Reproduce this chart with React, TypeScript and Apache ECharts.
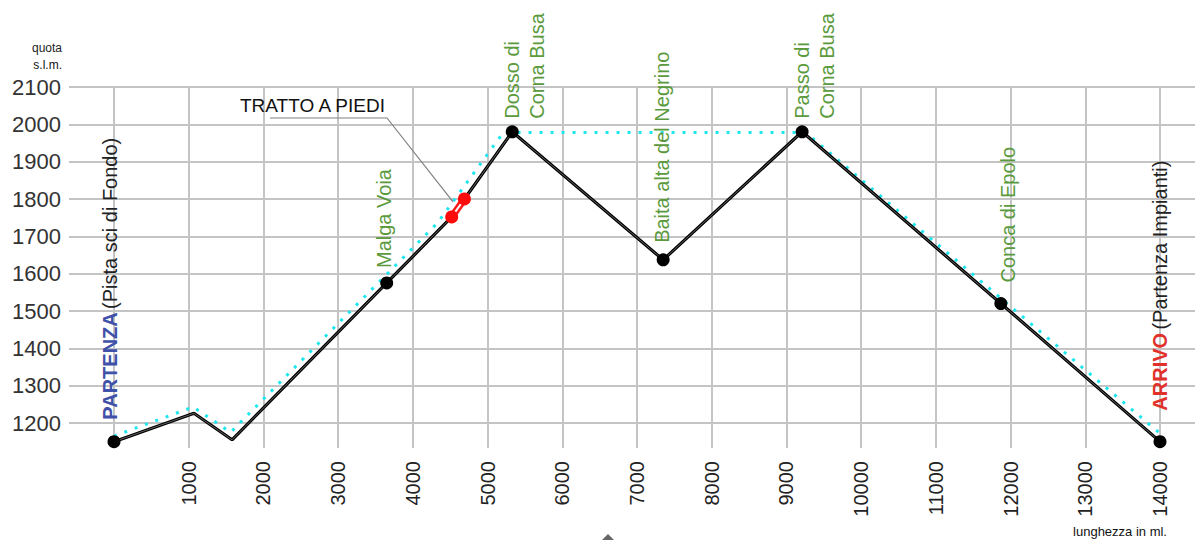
import { useEffect, useRef } from "react";
import * as echarts from "echarts";

// ---- data ----
const trackDist = [0, 1070, 1580, 3650, 4520, 4690, 5330, 7350, 9210, 11870, 14000];
const trackAlt = [1150, 1226, 1155, 1575, 1752, 1800, 1980, 1637, 1980, 1520, 1150];

const refDist = [0, 1060, 1560, 4330, 5210, 9260, 14000];
const refAlt = [1165, 1243, 1175, 1736, 1978, 1978, 1172];

const walkDist = [4520, 4690];
const walkAlt = [1752, 1800];

const waypointNames = [
  "PARTENZA",
  "Malga Voia",
  "Dosso di\nCorna Busa",
  "Baita alta del Negrino",
  "Passo di\nCorna Busa",
  "Conca di Epolo",
  "ARRIVO",
];
const waypointDist = [0, 3650, 5330, 7350, 9210, 11870, 14000];
const waypointAlt = [1150, 1575, 1980, 1637, 1980, 1520, 1150];

const walkLabel = "TRATTO A PIEDI";
const yAxisName = ["quota", "s.l.m."];
const xAxisName = "lunghezza in ml.";

// ---- styles ----
const FONT = '"Liberation Sans", Arial, Helvetica, sans-serif';
const GRID = "#c4c4c4";
const GREEN = "#5b9a3c";
const BLUE = "#3f51a8";
const RED = "#e0322a";
const CYAN = "#1ee6ef";
// label offsets in px relative to the waypoint marker
const labelDx = [-4, -3, 12, -1, 12, 7, 0];
const labelDy = [-22, -15, -13, -17, -13, -21, -31];

const zip = (a: number[], b: number[]) => a.map((v, i) => [v, b[i]]);

export default function App() {
  const ref = useRef<HTMLDivElement>(null);

  useEffect(() => {
    if (!ref.current) return;
    const chart = echarts.init(ref.current, undefined, { renderer: "svg" });

    const common = { xAxisIndex: 1, yAxisIndex: 1, silent: true };
    const plain = (v: number) => String(v);
    const option: any = {
      animation: false,
      backgroundColor: "#ffffff",
      textStyle: { fontFamily: FONT },
      grid: [
        { left: 69, top: 87, width: 1126, height: 336 },
        { left: 114, top: 87, width: 1046, height: 361 },
      ],
      xAxis: [
        { gridIndex: 0, type: "value", min: 0, max: 1, show: false },
        {
          gridIndex: 1,
          type: "value",
          min: 0,
          max: 14000,
          interval: 1000,
          axisLine: { show: false },
          axisTick: { show: false },
          splitLine: { show: true, lineStyle: { color: GRID, width: 2 } },
          axisLabel: {
            rotate: 90,
            fontSize: 20,
            color: "#222",
            margin: 13,
            fontFamily: FONT,
            showMinLabel: false,
            formatter: plain,
          },
        },
      ],
      yAxis: [
        {
          gridIndex: 0,
          type: "value",
          min: 1200,
          max: 2100,
          interval: 100,
          axisLine: { show: false },
          axisTick: { show: false },
          splitLine: { show: true, lineStyle: { color: GRID, width: 2 } },
          axisLabel: { fontSize: 22, color: "#333", margin: 8, fontFamily: FONT, formatter: plain },
        },
        { gridIndex: 1, type: "value", min: 1133, max: 2100, show: false },
      ],
      series: [
        {
          ...common,
          type: "line",
          data: zip(refDist, refAlt),
          symbol: "none",
          lineStyle: { color: CYAN, width: 3, type: [3, 8] },
          z: 2,
        },
        {
          ...common,
          type: "line",
          data: zip(trackDist, trackAlt),
          symbol: "none",
          lineStyle: { color: "#000", width: 3.2 },
          z: 3,
        },
        {
          ...common,
          type: "line",
          data: zip(trackDist, trackAlt),
          symbol: "none",
          lineStyle: { color: "#fff", width: 0.7, opacity: 0.55 },
          z: 4,
        },
        {
          ...common,
          type: "line",
          data: zip(walkDist, walkAlt),
          symbol: "none",
          lineStyle: { color: "#ff1a1a", width: 7 },
          z: 5,
        },
        {
          ...common,
          type: "line",
          data: zip(walkDist, walkAlt),
          symbol: "none",
          lineStyle: { color: "#fff", width: 2 },
          z: 6,
        },
        {
          ...common,
          type: "scatter",
          data: zip(waypointDist, waypointAlt),
          symbol: "circle",
          symbolSize: 13,
          itemStyle: { color: "#000", opacity: 1 },
          z: 7,
        },
        {
          ...common,
          type: "scatter",
          data: zip(walkDist, walkAlt),
          symbol: "circle",
          symbolSize: 13,
          itemStyle: { color: "#ff0a0a", opacity: 1 },
          z: 7,
        },
      ],
    };
    chart.setOption(option);

    const px = (x: number, y: number) =>
      chart.convertToPixel({ gridIndex: 1 }, [x, y]) as number[];

    const graphics: any[] = [];
    waypointNames.forEach((name, i) => {
      const p = px(waypointDist[i], waypointAlt[i]);
      const x = p[0] + labelDx[i];
      const y = p[1] + labelDy[i];
      let style: any;
      if (i === 0) {
        style = {
          text: "{a|" + name + "} {b|(Pista sci di Fondo)}",
          rich: {
            a: { fill: BLUE, fontWeight: "bold", fontSize: 20, fontFamily: FONT },
            b: { fill: "#222", fontSize: 20, fontFamily: FONT },
          },
        };
      } else if (i === waypointNames.length - 1) {
        style = {
          text: "{a|" + name + "} {b|(Partenza Impianti)}",
          rich: {
            a: { fill: RED, fontWeight: "bold", fontSize: 20, fontFamily: FONT },
            b: { fill: "#222", fontSize: 20, fontFamily: FONT },
          },
        };
      } else {
        style = {
          text: name,
          fill: GREEN,
          fontSize: 20,
          fontFamily: FONT,
          lineHeight: 25,
        };
      }
      graphics.push({
        type: "text",
        x,
        y,
        rotation: Math.PI / 2,
        z: 100,
        style: { ...style, align: "left", verticalAlign: "middle" },
      });
    });

    // walking segment annotation
    const a = px(walkDist[0], walkAlt[0]);
    const b = px(walkDist[1], walkAlt[1]);
    const mid = [(a[0] + b[0]) / 2, (a[1] + b[1]) / 2];
    graphics.push({
      type: "polyline",
      z: 90,
      shape: {
        points: [
          [270, 118],
          [387, 118],
          [mid[0] - 5, mid[1] - 6],
        ],
      },
      style: { stroke: "#808080", lineWidth: 1.2, fill: null },
    });
    graphics.push({
      type: "text",
      x: 240,
      y: 105,
      z: 100,
      style: {
        text: walkLabel,
        fill: "#111",
        fontSize: 19,
        fontFamily: FONT,
        align: "left",
        verticalAlign: "middle",
      },
    });

    // axis names
    graphics.push({
      type: "text",
      x: 62,
      y: 48,
      style: { text: yAxisName[0], fill: "#222", fontSize: 12, fontFamily: FONT, align: "right", verticalAlign: "middle" },
    });
    graphics.push({
      type: "text",
      x: 62,
      y: 65,
      style: { text: yAxisName[1], fill: "#111", fontSize: 12, fontFamily: FONT, align: "right", verticalAlign: "middle" },
    });
    graphics.push({
      type: "text",
      x: 1167,
      y: 531,
      style: { text: xAxisName, fill: "#111", fontSize: 13, fontFamily: FONT, align: "right", verticalAlign: "middle" },
    });
    // small scroll indicator
    graphics.push({
      type: "polygon",
      shape: { points: [[601, 541], [608, 534], [615, 541]] },
      style: { fill: "#666" },
    });

    chart.setOption({ graphic: graphics });

    return () => chart.dispose();
  }, []);

  return (
    <div
      ref={ref}
      style={{ position: "fixed", left: 0, top: 0, width: 1195, height: 540, background: "#fff" }}
    />
  );
}
